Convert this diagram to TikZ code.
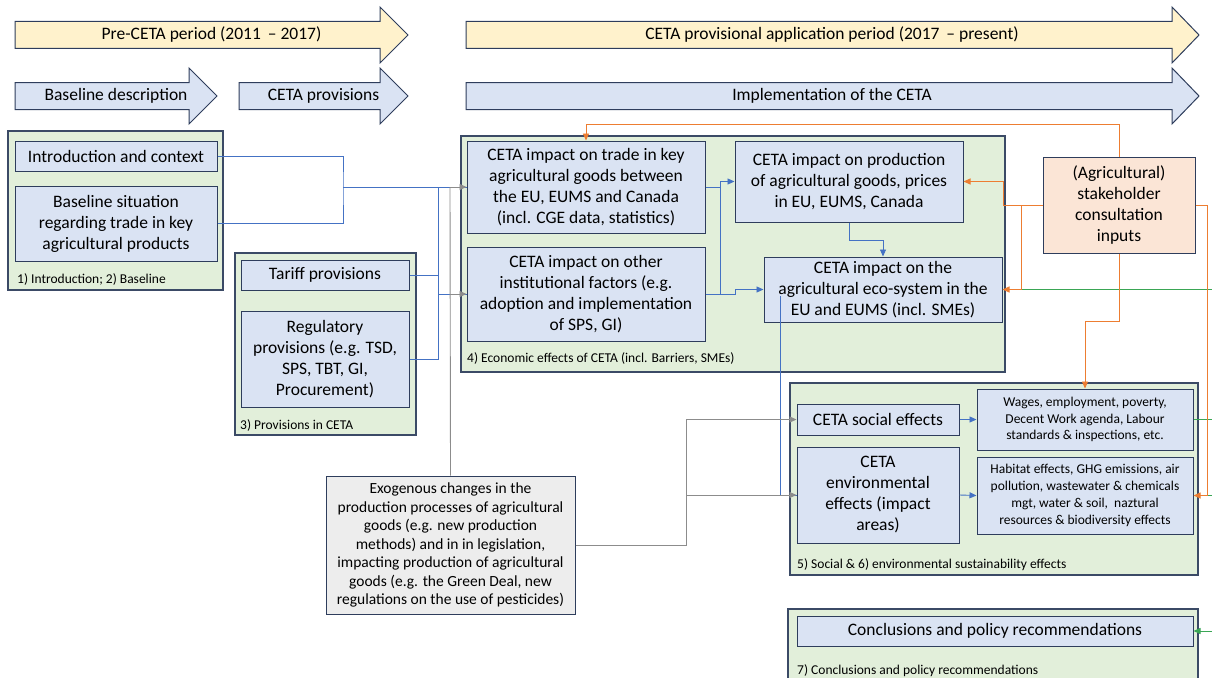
\documentclass[tikz,border=0pt]{standalone}
\usepackage{fontspec}
\setmainfont{Carlito}
\usetikzlibrary{arrows.meta}
\definecolor{navy}{HTML}{2E3D5C}
\definecolor{grpborder}{HTML}{3B4A66}
\definecolor{boxblue}{HTML}{DAE3F3}
\definecolor{grpgreen}{HTML}{E2EFDA}
\definecolor{ylw}{HTML}{FFF2CC}
\definecolor{peach}{HTML}{FBE5D6}
\definecolor{exogray}{HTML}{EDEDED}
\definecolor{lineblue}{HTML}{4472C4}
\definecolor{lineorange}{HTML}{ED7D31}
\definecolor{linegray}{HTML}{8C8C8C}
\definecolor{linegreen}{HTML}{3AA655}
\begin{document}
\begin{tikzpicture}[x=1pt,y=-1pt,
  tip/.tip={Triangle[length=7pt,width=6pt]},
  box/.style={draw=navy, line width=1pt, fill=boxblue, align=center, inner sep=0pt, font=\fontsize{17.5}{21}\selectfont},
  smallbox/.style={box, font=\fontsize{13.5}{16.8}\selectfont},
  grp/.style={draw=grpborder, line width=1.4pt, fill=grpgreen, inner sep=0pt},
  lbl/.style={anchor=base west, inner sep=0pt, font=\fontsize{13.5}{16}\selectfont},
  bigarrow/.style={draw=navy, line width=1pt},
  arrowtext/.style={inner sep=0pt, font=\fontsize{17.5}{21}\selectfont},
  blueline/.style={draw=lineblue, line width=0.9pt},
  orangeline/.style={draw=lineorange, line width=0.9pt},
  grayline/.style={draw=linegray, line width=0.9pt},
  greenline/.style={draw=linegreen, line width=0.9pt}
]
\useasboundingbox (0,0) rectangle (1212,677);

% ---------- timeline arrows ----------
\draw[bigarrow, fill=ylw] (15,21.5) -- (380,21.5) -- (380,7) -- (408,35) -- (380,63) -- (380,48.5) -- (15,48.5) -- cycle;
\node[arrowtext] (tpre) at (211.5,35) {Pre-CETA period (2011 \,– 2017)};
\draw[bigarrow, fill=ylw] (466,21.5) -- (1172,21.5) -- (1172,7) -- (1199,35) -- (1172,63) -- (1172,48.5) -- (466,48.5) -- cycle;
\node[arrowtext] (tpost) at (832,35) {CETA provisional application period (2017 \,– present)};

\draw[bigarrow, fill=boxblue] (15,82.5) -- (189,82.5) -- (189,68) -- (217,96) -- (189,124) -- (189,109.5) -- (15,109.5) -- cycle;
\node[arrowtext] (tbase) at (116,96) {Baseline description};
\draw[bigarrow, fill=boxblue] (239,82.5) -- (380,82.5) -- (380,68) -- (408,96) -- (380,124) -- (380,109.5) -- (239,109.5) -- cycle;
\node[arrowtext] (tprov) at (323.5,96) {CETA provisions};
\draw[bigarrow, fill=boxblue] (466,82.5) -- (1172,82.5) -- (1172,68) -- (1199,96) -- (1172,124) -- (1172,109.5) -- (466,109.5) -- cycle;
\node[arrowtext] (timpl) at (832,96) {Implementation of the CETA};

% ---------- group frames ----------
\node[grp, minimum width=215pt, minimum height=159pt] (g1) at (115.5,210.5) {};
\node[grp, minimum width=181pt, minimum height=182pt] (g3) at (325.5,344) {};
\node[grp, minimum width=544pt, minimum height=236pt] (g4) at (733,254) {};
\node[grp, minimum width=408pt, minimum height=192pt] (g56) at (994,479) {};
\node[grp, minimum width=410pt, minimum height=80pt] (g7) at (993,649) {};

\node[lbl] (l1) at (17,283) {1) Introduction; 2) Baseline};
\node[lbl] (l3) at (240,429) {3) Provisions in CETA};
\node[lbl] (l4) at (467,362) {4) Economic effects of CETA (incl. Barriers, SMEs)};
\node[lbl] (l56) at (797,568) {5) Social \& 6) environmental sustainability effects};
\node[lbl] (l7) at (797,674) {7) Conclusions and policy recommendations};

% ---------- boxes ----------
\node[box, minimum width=202pt, minimum height=30pt] (intro) at (116,156) {Introduction and context};
\node[box, minimum width=202pt, minimum height=75pt] (baseline) at (116,223.5) {Baseline situation\\regarding trade in key\\agricultural products};
\node[box, minimum width=168pt, minimum height=30pt] (tariff) at (325,275) {Tariff provisions};
\node[box, minimum width=168pt, minimum height=96pt] (regul) at (325,359) {Regulatory\\provisions (e.g. TSD,\\SPS, TBT, GI,\\Procurement)};

\node[box, minimum width=238pt, minimum height=92pt] (trade) at (586,187) {CETA impact on trade in key\\agricultural goods between\\the EU, EUMS and Canada\\(incl. CGE data, statistics)};
\node[box, minimum width=238pt, minimum height=94pt] (other) at (586,294) {CETA impact on other\\institutional factors (e.g.\\adoption and implementation\\of SPS, GI)};
\node[box, minimum width=228pt, minimum height=81pt] (prod) at (849,181.5) {CETA impact on production\\of agricultural goods, prices\\in EU, EUMS, Canada};
\node[box, minimum width=238pt, minimum height=65pt] (eco) at (883,289.5) {CETA impact on the\\agricultural eco-system in the\\EU and EUMS (incl. SMEs)};

\node[box, fill=peach, minimum width=152pt, minimum height=96pt] (stake) at (1119,205) {(Agricultural)\\stakeholder\\consultation\\inputs};

\node[box, minimum width=162pt, minimum height=31pt] (social) at (878,419.5) {CETA social effects};
\node[box, minimum width=162pt, minimum height=96pt] (env) at (878,495) {CETA\\environmental\\effects (impact\\areas)};
\node[smallbox, minimum width=216pt, minimum height=61pt] (wages) at (1085,419.5) {Wages, employment, poverty,\\Decent Work agenda, Labour\\standards \& inspections, etc.};
\node[smallbox, minimum width=216pt, minimum height=77pt] (habitat) at (1085,495.5) {Habitat effects, GHG emissions, air\\pollution, wastewater \& chemicals\\mgt, water \& soil, \ naztural\\resources \& biodiversity effects};

\node[box, fill=exogray, minimum width=249pt, minimum height=138pt, font=\fontsize{15.5}{18.5}\selectfont] (exo) at (450.5,545) {Exogenous changes in the\\production processes of agricultural\\goods (e.g. new production\\methods) and in in legislation,\\impacting production of agricultural\\goods (e.g. the Green Deal, new\\regulations on the use of pesticides)};

\node[box, minimum width=396pt, minimum height=30pt] (concl) at (995,631) {Conclusions and policy recommendations};

% ---------- junction coordinates ----------
\coordinate (j1) at (343,187);
\coordinate (j3) at (438,187);
\coordinate (j2) at (438,294);
\coordinate (gtop) at (450,187);
\coordinate (gmid) at (450,294);
\coordinate (e1) at (780,296);
\coordinate (rEco) at (1214,289.5);
\coordinate (rWages) at (1214,419.5);
\coordinate (rHab) at (1214,495.5);
\coordinate (rConcl) at (1214,631);

% ---------- blue connectors ----------
\draw[blueline] (intro.east) -| (j1) |- (baseline.east);
\draw[blueline] (j1) -- (trade.west);
\draw[blueline] (tariff.east) -| (j2);
\draw[blueline] (regul.east) -| (j2);
\draw[blueline] (j3) -- (j2) -- (other.west);
\draw[blueline] (trade.east) -- ++(15,0);
\draw[blueline,-tip] (other.east) -- ++(15,0) |- (prod.west);
\draw[blueline,-tip] (other.east) -- ++(30,0) |- (eco.west);
\draw[blueline,-tip] (prod.south) -- ++(0,18) -| (eco.north);
\draw[blueline] (e1) |- (env.west);
\draw[blueline,-tip] (social.east) -- (wages.west);
\draw[blueline,-tip] (env.east) -- (habitat.west);

% ---------- gray connectors ----------
\draw[grayline] (exo.north) -- (gtop);
\draw[grayline,-tip] (gtop) -- (trade.west);
\draw[grayline,-tip] (gmid) -- (other.west);
\draw[grayline,-tip] (exo.east) -- ++(111,0) |- (social.west);
\draw[grayline,-tip] (exo.east) -- ++(111,0) |- (env.west);

% ---------- green connectors ----------
\draw[greenline] (eco.east) -- (rEco);
\draw[greenline] (wages.east) -- (rWages);
\draw[greenline] (habitat.east) -- (rHab);
\draw[greenline,-tip] (rConcl) -- (concl.east);

% ---------- orange connectors ----------
\draw[orangeline,-tip] (stake.north) -- ++(0,-32) -| (trade.north);
\draw[orangeline,-tip] (stake.west) -- ++(-39,0) |- (prod.east);
\draw[orangeline,-tip] (stake.west) -- ++(-21,0) |- (eco.east);
\draw[orangeline,-tip] (stake.south) -- ++(0,68) -| (wages.north);
\draw[orangeline,-tip] (stake.east) -- ++(12,0) |- (habitat.east);
\end{tikzpicture}
\end{document}
